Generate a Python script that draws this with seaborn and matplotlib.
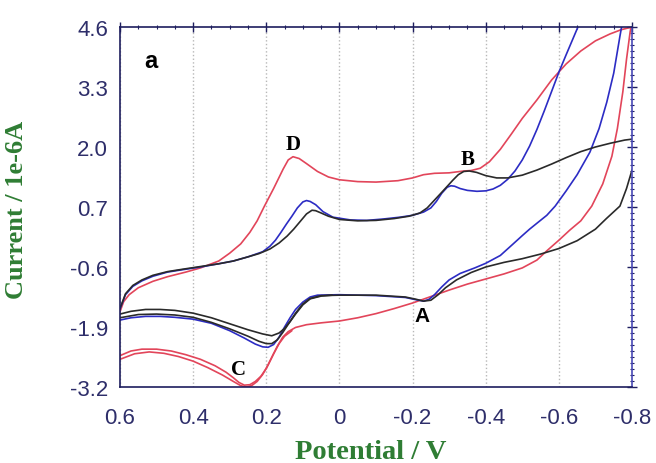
import numpy as np
import pandas as pd
import matplotlib
matplotlib.use("Agg")
import matplotlib.pyplot as plt
from matplotlib.ticker import MultipleLocator, FixedLocator
import seaborn as sns

# Cyclic voltammograms: forward (cathodic) sweep 0.6 -> -0.8 V, reverse sweep back to 0.6 V
red_fwd_E = [0.6, 0.57, 0.54, 0.5, 0.46, 0.42, 0.38, 0.34, 0.31, 0.29, 0.275, 0.26, 0.245, 0.23,
             0.215, 0.2, 0.185, 0.17, 0.155, 0.14, 0.12, 0.09, 0.05, 0.0, -0.05, -0.1, -0.15,
             -0.2, -0.25, -0.3, -0.35, -0.4, -0.45, -0.5, -0.54, -0.567, -0.6, -0.63, -0.66,
             -0.69, -0.72, -0.745, -0.76, -0.775, -0.785, -0.795, -0.8]
red_fwd_I = [-2.52, -2.42, -2.38, -2.38, -2.42, -2.50, -2.60, -2.74, -2.88, -3.00, -3.10, -3.16, -3.15, -3.08,
             -2.97, -2.80, -2.56, -2.32, -2.12, -2.00, -1.91, -1.85, -1.81, -1.77, -1.70, -1.61, -1.50,
             -1.38, -1.24, -1.10, -0.97, -0.86, -0.75, -0.62, -0.45, -0.25, -0.02, 0.20, 0.40,
             0.72, 1.20, 1.80, 2.40, 3.20, 3.90, 4.50, 4.70]
red_rev_E = [-0.8, -0.79, -0.77, -0.74, -0.7, -0.66, -0.62, -0.58, -0.54, -0.5, -0.47, -0.44,
             -0.41, -0.385, -0.36, -0.34, -0.3, -0.26, -0.23, -0.2, -0.16, -0.1, -0.05, 0.0,
             0.03, 0.06, 0.09, 0.11, 0.127, 0.14, 0.154, 0.18, 0.205, 0.225, 0.245, 0.27, 0.3,
             0.33, 0.38, 0.42, 0.47, 0.51, 0.55, 0.575, 0.59, 0.6]
red_rev_I = [4.60, 4.58, 4.54, 4.45, 4.30, 4.08, 3.80, 3.45, 3.02, 2.62, 2.28, 1.95,
             1.68, 1.54, 1.49, 1.48, 1.44, 1.43, 1.40, 1.33, 1.27, 1.24, 1.25, 1.29,
             1.35, 1.47, 1.64, 1.75, 1.79, 1.72, 1.52, 1.10, 0.72, 0.40, 0.15, -0.10, -0.30,
             -0.47, -0.62, -0.71, -0.81, -0.91, -1.05, -1.20, -1.35, -1.57]
red_fwd2_E = [0.6, 0.56, 0.52, 0.48, 0.44, 0.4, 0.36, 0.32, 0.29, 0.27, 0.255, 0.24, 0.225,
              0.21, 0.195, 0.18, 0.165, 0.15, 0.13]
red_fwd2_I = [-2.60, -2.48, -2.44, -2.47, -2.54, -2.64, -2.78, -2.94, -3.08, -3.17, -3.20, -3.17, -3.08,
              -2.93, -2.72, -2.48, -2.26, -2.10, -1.98]

blue_fwd_E = [0.6, 0.57, 0.53, 0.49, 0.45, 0.4, 0.35, 0.3, 0.26, 0.23, 0.21, 0.195, 0.18, 0.165,
              0.15, 0.135, 0.12, 0.1, 0.08, 0.06, 0.0, -0.1, -0.18, -0.21, -0.23, -0.245, -0.26,
              -0.28, -0.3, -0.33, -0.37, -0.4, -0.44, -0.475, -0.5, -0.52, -0.545, -0.567, -0.59,
              -0.62, -0.65, -0.685, -0.71, -0.731, -0.75, -0.767, -0.785, -0.8]
blue_fwd_I = [-1.75, -1.70, -1.67, -1.67, -1.69, -1.73, -1.82, -1.98, -2.14, -2.27, -2.33, -2.34, -2.28, -2.12,
              -1.90, -1.70, -1.52, -1.36, -1.25, -1.21, -1.20, -1.22, -1.26, -1.31, -1.34, -1.30, -1.20,
              -1.03, -0.88, -0.74, -0.62, -0.52, -0.35, -0.10, 0.08, 0.22, 0.38, 0.52, 0.72,
              1.05, 1.40, 1.89, 2.40, 2.97, 3.60, 4.40, 5.20, 5.80]
blue_rev_E = [-0.8, -0.7, -0.65, -0.62, -0.6, -0.58, -0.56, -0.54, -0.52, -0.5, -0.48, -0.46,
              -0.44, -0.42, -0.4, -0.376, -0.35, -0.33, -0.315, -0.305, -0.295, -0.28, -0.265,
              -0.25, -0.23, -0.2, -0.166, -0.12, -0.075, -0.03, 0.018, 0.045, 0.065, 0.08, 0.09,
              0.1, 0.115, 0.13, 0.145, 0.16, 0.175, 0.19, 0.21, 0.25, 0.29, 0.33, 0.38, 0.43,
              0.47, 0.51, 0.54, 0.565, 0.585, 0.6]
blue_rev_I = [7.80, 5.60, 4.56, 4.00, 3.62, 3.20, 2.78, 2.38, 2.02, 1.72, 1.48, 1.30,
              1.17, 1.09, 1.05, 1.04, 1.06, 1.10, 1.15, 1.16, 1.13, 1.00, 0.82,
              0.68, 0.59, 0.52, 0.48, 0.44, 0.41, 0.42, 0.48, 0.60, 0.75, 0.82, 0.84,
              0.81, 0.68, 0.50, 0.33, 0.15, -0.02, -0.15, -0.27, -0.38, -0.47, -0.53, -0.60, -0.66,
              -0.71, -0.80, -0.90, -1.02, -1.20, -1.51]

black_fwd_E = [0.6, 0.57, 0.53, 0.49, 0.45, 0.4, 0.35, 0.3, 0.25, 0.21, 0.185, 0.165, 0.15, 0.135,
               0.12, 0.1, 0.08, 0.05, 0.0, -0.1, -0.18, -0.21, -0.23, -0.25, -0.27, -0.29, -0.32,
               -0.36, -0.4, -0.45, -0.5, -0.55, -0.6, -0.65, -0.7, -0.73, -0.767, -0.785, -0.8]
black_fwd_I = [-1.62, -1.56, -1.52, -1.52, -1.54, -1.60, -1.70, -1.83, -1.96, -2.05, -2.09, -2.03, -1.93, -1.78,
               -1.60, -1.40, -1.28, -1.22, -1.21, -1.21, -1.25, -1.30, -1.34, -1.32, -1.20, -1.05, -0.88,
               -0.72, -0.60, -0.50, -0.42, -0.32, -0.20, -0.03, 0.22, 0.45, 0.72, 1.10, 1.50]
black_rev_E = [-0.8, -0.78, -0.74, -0.7, -0.66, -0.62, -0.58, -0.54, -0.5, -0.46, -0.43, -0.4,
               -0.375, -0.355, -0.34, -0.325, -0.31, -0.295, -0.28, -0.26, -0.24, -0.22, -0.19,
               -0.15, -0.1, -0.05, 0.0, 0.03, 0.05, 0.065, 0.075, 0.09, 0.108, 0.125, 0.143,
               0.165, 0.19, 0.22, 0.25, 0.29, 0.33, 0.38, 0.43, 0.47, 0.51, 0.54, 0.565, 0.585, 0.6]
black_rev_I = [2.17, 2.15, 2.08, 2.00, 1.90, 1.77, 1.63, 1.50, 1.39, 1.33, 1.33, 1.38,
               1.45, 1.48, 1.47, 1.40, 1.28, 1.15, 1.02, 0.85, 0.68, 0.57, 0.50,
               0.45, 0.41, 0.40, 0.43, 0.50, 0.57, 0.62, 0.63, 0.55, 0.38, 0.22, 0.07,
               -0.08, -0.21, -0.31, -0.38, -0.47, -0.53, -0.59, -0.65, -0.70, -0.78, -0.88, -1.00, -1.18, -1.50]
black_fwd2_E = [0.6, 0.55, 0.5, 0.45, 0.4, 0.35, 0.3, 0.25, 0.22, 0.2, 0.185, 0.17, 0.155,
                0.14, 0.12, 0.1, 0.08, 0.05, 0.02]
black_fwd2_I = [-1.70, -1.63, -1.62, -1.64, -1.69, -1.80, -1.94, -2.10, -2.21, -2.26, -2.26, -2.18, -2.02,
                -1.84, -1.62, -1.42, -1.29, -1.23, -1.21]

x_ticks = [0.6, 0.4, 0.2, 0.0, -0.2, -0.4, -0.6, -0.8]
x_tick_labels = ["0.6", "0.4", "0.2", "0", "-0.2", "-0.4", "-0.6", "-0.8"]
y_ticks = [-3.2, -1.9, -0.6, 0.7, 2.0, 3.3, 4.6]
y_tick_labels = ["-3.2", "-1.9", "-0.6", "0.7", "2.0", "3.3", "4.6"]

peak_labels = ["D", "B", "C", "A"]
peak_E = [0.127, -0.35, 0.277, -0.226]
peak_I = [2.07, 1.74, -2.81, -1.66]

branches = [
    ("red", "red_fwd", red_fwd_E, red_fwd_I),
    ("red", "red_fwd2", red_fwd2_E, red_fwd2_I),
    ("red", "red_rev", red_rev_E, red_rev_I),
    ("blue", "blue_fwd", blue_fwd_E, blue_fwd_I),
    ("blue", "blue_rev", blue_rev_E, blue_rev_I),
    ("black", "black_fwd", black_fwd_E, black_fwd_I),
    ("black", "black_fwd2", black_fwd2_E, black_fwd2_I),
    ("black", "black_rev", black_rev_E, black_rev_I),
]
frames = []
for series, branch, E, I in branches:
    frames.append(pd.DataFrame({"E": E, "I": I, "series": series, "branch": branch}))
df = pd.concat(frames, ignore_index=True)

sns.set_style("white")
plt.rcParams["font.family"] = ["Liberation Sans", "DejaVu Sans"]

fig = plt.figure(figsize=(6.56, 4.64), dpi=100)
ax = fig.add_axes([120 / 656, 1 - 388 / 464, 512 / 656, 360 / 464])

palette = {"red": "#e2455a", "blue": "#2c2cc4", "black": "#2a2a2a"}
sns.lineplot(data=df, x="E", y="I", hue="series", units="branch", estimator=None,
             sort=False, palette=palette, legend=False, linewidth=1.2, ax=ax)

ax.set_xlim(0.6, -0.8)
ax.set_ylim(-3.2, 4.6)
ax.xaxis.set_major_locator(FixedLocator(x_ticks))
ax.set_xticklabels(x_tick_labels)
ax.xaxis.set_minor_locator(MultipleLocator(0.05))
ax.yaxis.set_major_locator(FixedLocator(y_ticks))
ax.set_yticklabels(y_tick_labels)
ax.yaxis.set_minor_locator(FixedLocator(np.arange(-3.2, 4.61, 0.13)))

navy = "#1e1e5e"
ax.grid(axis="x", which="major", linestyle=":", color="#b8b8b8", linewidth=1.0)
for side in ["left", "bottom", "top"]:
    ax.spines[side].set_color(navy)
    ax.spines[side].set_linewidth(1.2)
ax.spines["right"].set_color("#4a4ab8")
ax.spines["right"].set_linewidth(1.2)

ax.tick_params(axis="both", which="both", top=True, right=True, direction="inout")
ax.tick_params(axis="x", which="major", length=7, width=1, color=navy,
               labelsize=16, labelcolor="#2e2e6a", pad=11)
ax.tick_params(axis="y", which="major", length=7, width=1, color=navy,
               labelsize=16, labelcolor="#2e2e6a", pad=5)
ax.tick_params(axis="both", which="minor", length=3.5, width=0.8, color=navy)

serif = ["Liberation Serif", "DejaVu Serif"]
green = "#2f7d34"
ax.set_xlabel("Potential / V", fontsize=20.5, fontweight="bold", family=serif, color=green)
ax.set_ylabel("Current / 1e-6A", fontsize=19, fontweight="bold", family=serif, color=green)
ax.xaxis.set_label_coords(0.49, -0.145)
ax.yaxis.set_label_coords(-0.18, 0.494)

ax.text(0.06, 0.906, "a", transform=ax.transAxes, fontsize=17, fontweight="bold",
        ha="center", va="center", color="black")
for lab, e, i in zip(peak_labels, peak_E, peak_I):
    fam = ["Liberation Sans", "DejaVu Sans"] if lab == "A" else serif
    ax.text(e, i, lab, fontsize=15, fontweight="bold", family=fam,
            ha="center", va="center", color="black")

fig.savefig("out.png", dpi=100)
